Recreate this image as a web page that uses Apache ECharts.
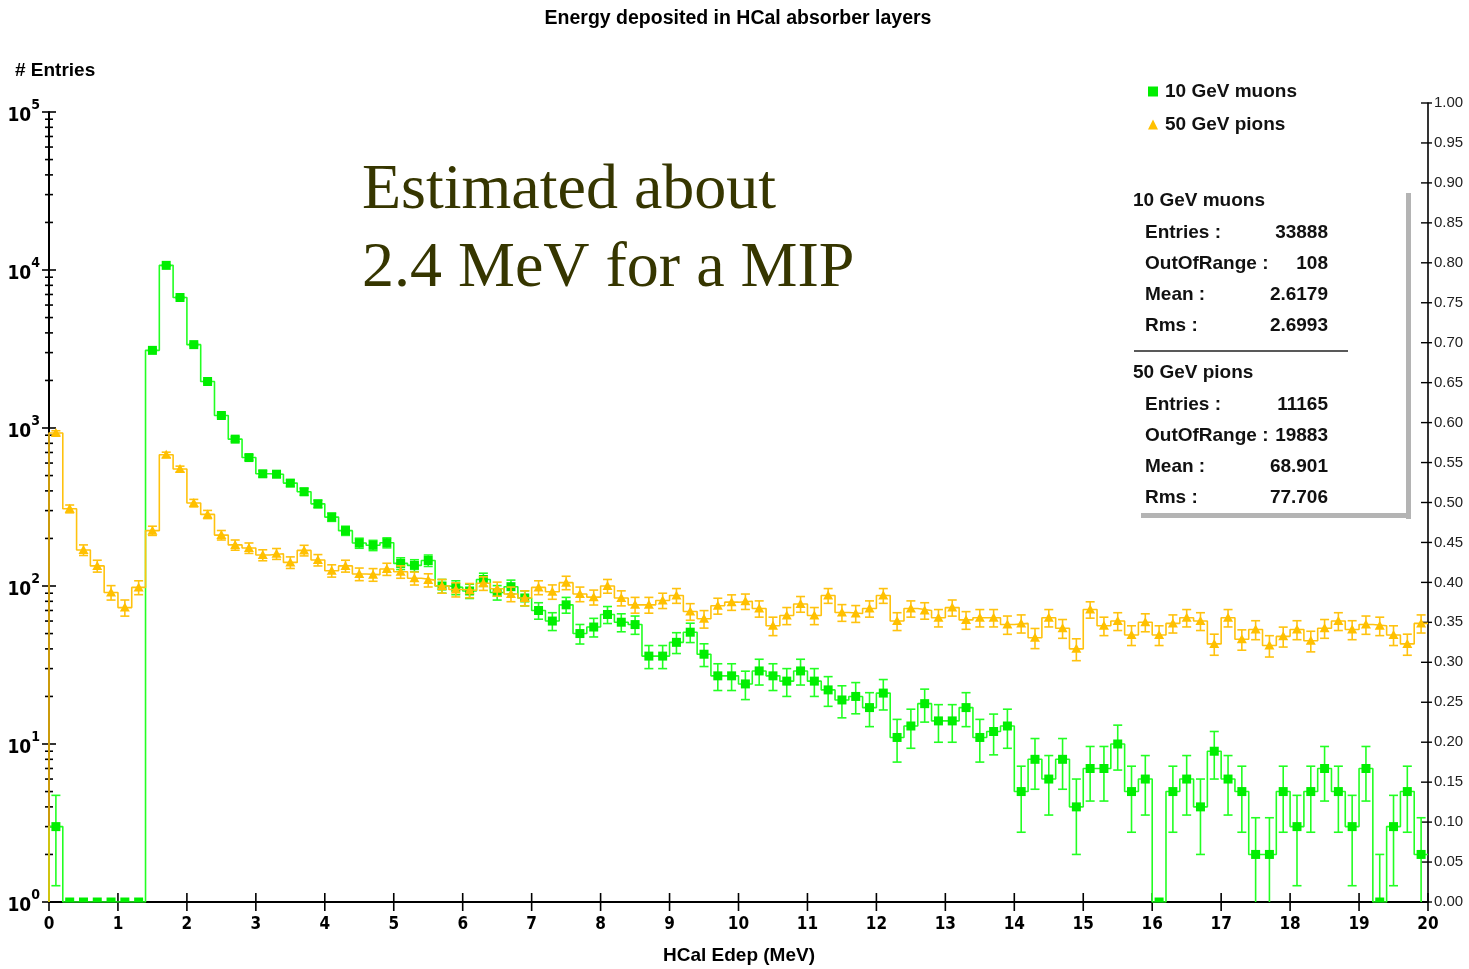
<!DOCTYPE html>
<html>
<head>
<meta charset="utf-8">
<title>Energy deposited in HCal absorber layers</title>
<script src="https://cdn.jsdelivr.net/npm/echarts@6/dist/echarts.min.js"></script>
<style>
  html, body { margin: 0; padding: 0; background: #ffffff; }
  #chart { width: 1469px; height: 969px; }
</style>
</head>
<body>
<div id="chart"></div>
<script>
// Histogram binning: 100 bins of 0.2 MeV between 0 and 20 MeV
const binWidth = 0.2;

// Entries per bin, 10 GeV muons
const muonCounts = [
  3, 0, 0, 0, 0, 0, 0, 3100, 10700, 6700,
  3370, 1970, 1200, 850, 650, 513, 510, 448, 395, 331,
  273, 224, 187, 181, 188, 139, 135, 145, 100, 98,
  93, 110, 91, 99, 84, 70, 60, 76, 50, 55,
  66, 59, 57, 36, 36, 44, 51, 37, 27, 27,
  24, 29, 27, 25, 29, 25, 22, 19, 20, 17,
  21, 11, 13, 18, 14, 14, 17, 11, 12, 13,
  5, 8, 6, 8, 4, 7, 7, 10, 5, 6,
  0, 5, 6, 4, 9, 6, 5, 2, 2, 5,
  3, 5, 7, 5, 3, 7, 1, 3, 5, 2
];

// Entries per bin, 50 GeV pions
const pionCounts = [
  930, 308, 169, 134, 91, 73, 98, 224, 677, 550,
  335, 284, 210, 182, 174, 157, 160, 141, 168, 146,
  125, 134, 119, 118, 128, 123, 112, 109, 100, 95,
  94, 104, 96, 89, 84, 98, 92, 105, 89, 85,
  100, 84, 76, 76, 81, 87, 69, 62, 75, 79,
  80, 72, 56, 65, 77, 65, 87, 68, 67, 72,
  87, 60, 72, 70, 63, 73, 61, 63, 63, 57,
  58, 47, 63, 54, 40, 71, 56, 60, 49, 59,
  49, 58, 63, 60, 43, 63, 46, 53, 42, 48,
  53, 45, 54, 60, 53, 57, 56, 49, 43, 58
];

// Axis tick positions
const xTickValues = [0, 1, 2, 3, 4, 5, 6, 7, 8, 9, 10, 11, 12, 13, 14, 15, 16, 17, 18, 19, 20];
const decadeValues = [1, 10, 100, 1000, 10000, 100000];
const minorMultipliers = [2, 3, 4, 5, 6, 7, 8, 9];
const rightTickValues = [0, 0.05, 0.1, 0.15, 0.2, 0.25, 0.3, 0.35, 0.4, 0.45, 0.5,
  0.55, 0.6, 0.65, 0.7, 0.75, 0.8, 0.85, 0.9, 0.95, 1];

// Statistics boxes
const statLabels = ['Entries :', 'OutOfRange :', 'Mean :', 'Rms :'];
const muonStats = ['33888', '108', '2.6179', '2.6993'];
const pionStats = ['11165', '19883', '68.901', '77.706'];

const muonName = '10 GeV muons';
const pionName = '50 GeV pions';
const GREEN_LINE = '#22ff22';
const GREEN_MARK = '#00ee00';
const YELLOW_LINE = '#ffc20e';
const YELLOW_MARK = '#ffc000';

const NARROW = '"Liberation Sans Narrow", "DejaVu Sans Condensed", "Liberation Sans", sans-serif';
const SANS = '"Liberation Sans", Arial, sans-serif';

// Histogram outline as a step path along the bin edges (empty bins sit on the axis floor)
function stepPoints(counts) {
  const pts = [[0, 1]];
  counts.forEach(function (c, i) {
    const y = Math.max(c, 1);
    pts.push([i * binWidth, y], [(i + 1) * binWidth, y]);
  });
  return pts;
}

function binCenter(i) { return (2 * i + 1) * binWidth / 2; }

function markerPoints(counts) {
  return counts.map(function (c, i) { return [binCenter(i), Math.max(c, 1)]; });
}

// Poisson (sqrt N) error bars for non-empty bins
function errorPoints(counts) {
  const out = [];
  counts.forEach(function (c, i) {
    if (c <= 0) return;
    const e = Math.sqrt(c);
    out.push([binCenter(i), Math.max(c - e, 1), c + e]);
  });
  return out;
}

function errorBarRenderer(color) {
  return function (params, api) {
    const x = api.value(0), lo = api.value(1), hi = api.value(2);
    const pLo = api.coord([x, lo]);
    const pHi = api.coord([x, hi]);
    const half = 4.5;
    const style = { stroke: color, lineWidth: 1.6 };
    const children = [
      { type: 'line', shape: { x1: pLo[0], y1: pLo[1], x2: pHi[0], y2: pHi[1] }, style: style },
      { type: 'line', shape: { x1: pHi[0] - half, y1: pHi[1], x2: pHi[0] + half, y2: pHi[1] }, style: style }
    ];
    if (lo > 1) {
      children.push({ type: 'line', shape: { x1: pLo[0] - half, y1: pLo[1], x2: pLo[0] + half, y2: pLo[1] }, style: style });
    }
    return { type: 'group', children: children };
  };
}

// Markers are clipped at the plot floor, so empty bins show only their upper half
function markerRenderer(kind, color) {
  return function (params, api) {
    const p = api.coord([api.value(0), api.value(1)]);
    const cs = params.coordSys;
    const floor = cs.y + cs.height;
    if (kind === 'rect') {
      const top = p[1] - 4.5;
      const bottom = Math.min(p[1] + 4.5, floor);
      return { type: 'rect', shape: { x: p[0] - 4.5, y: top, width: 9, height: bottom - top }, style: { fill: color } };
    }
    return {
      type: 'polygon',
      shape: { points: [[p[0], p[1] - 5], [p[0] + 5, p[1] + 4], [p[0] - 5, p[1] + 4]] },
      style: { fill: color }
    };
  };
}

// Tick marks that cross the axis lines: [x, y, kind]
const tickData = [];
decadeValues.forEach(function (d, k) {
  tickData.push([0, d, 0]);
  if (k < decadeValues.length - 1) {
    minorMultipliers.forEach(function (m) { tickData.push([0, d * m, 1]); });
  }
});
xTickValues.forEach(function (v) { tickData.push([v, 1, 2]); });

function tickRenderer(params, api) {
  const p = api.coord([api.value(0), api.value(1)]);
  const kind = api.value(2);
  const style = { stroke: '#000', lineWidth: 1.6 };
  let shape;
  if (kind === 0) shape = { x1: p[0] - 7, y1: p[1], x2: p[0] + 7, y2: p[1] };
  else if (kind === 1) shape = { x1: p[0] - 4, y1: p[1], x2: p[0] + 4, y2: p[1] };
  else shape = { x1: p[0], y1: p[1] - 9, x2: p[0], y2: p[1] + 9 };
  return { type: 'line', shape: shape, style: style };
}

function rightTickRenderer(params, api) {
  const p = api.coord([20, api.value(0)]);
  return {
    type: 'line',
    shape: { x1: p[0] - 7, y1: p[1], x2: p[0] + 4, y2: p[1] },
    style: { stroke: '#000', lineWidth: 1.4 }
  };
}

// Text of the statistics panel
function statBlock(title, values, top) {
  const font = 'bold 19px ' + SANS;
  const items = [{
    type: 'text', x: 1133, y: top,
    style: { text: title, font: font, fill: '#111', verticalAlign: 'middle', align: 'left' }
  }];
  values.forEach(function (v, i) {
    const y = top + 31.3 * (i + 1);
    items.push({
      type: 'text', x: 1145, y: y,
      style: { text: statLabels[i], font: font, fill: '#111', verticalAlign: 'middle', align: 'left' }
    });
    items.push({
      type: 'text', x: 1328, y: y,
      style: { text: v, font: font, fill: '#111', verticalAlign: 'middle', align: 'right' }
    });
  });
  return items;
}

const chart = echarts.init(document.getElementById('chart'), null, { renderer: 'canvas' });

const option = {
  backgroundColor: '#ffffff',
  animation: false,
  grid: [
    { left: 49, right: 41, top: 112, bottom: 67 },
    { left: 49, right: 41, top: 103, bottom: 67 }
  ],
  legend: {
    orient: 'vertical',
    left: 1143,
    top: 76,
    itemWidth: 10,
    itemHeight: 10,
    itemGap: 12,
    selectedMode: false,
    textStyle: { fontFamily: SANS, fontWeight: 'bold', fontSize: 19, color: '#111', lineHeight: 21, padding: [0, 0, 0, 2] },
    data: [
      { name: muonName, icon: 'rect', itemStyle: { color: GREEN_MARK } },
      { name: pionName, icon: 'triangle', itemStyle: { color: YELLOW_MARK } }
    ]
  },
  xAxis: [
    {
      gridIndex: 0, type: 'value', min: 0, max: 20, interval: 1,
      axisLine: { show: true, onZero: false, lineStyle: { color: '#000', width: 2 } },
      axisTick: { show: false },
      splitLine: { show: false },
      axisLabel: { margin: 14, fontFamily: NARROW, fontWeight: 'bold', fontSize: 17, color: '#000' }
    },
    { gridIndex: 1, type: 'value', min: 0, max: 20, show: false }
  ],
  yAxis: [
    {
      gridIndex: 0, type: 'log', logBase: 10, min: 1, max: 100000,
      axisLine: { show: true, onZero: false, lineStyle: { color: '#000', width: 2 } },
      axisTick: { show: false },
      splitLine: { show: false },
      axisLabel: {
        margin: 9,
        formatter: function (v) {
          return '{b|10}{s|' + Math.round(Math.log10(v)) + '}';
        },
        rich: {
          b: { fontFamily: NARROW, fontWeight: 'bold', fontSize: 19, color: '#000', lineHeight: 28, verticalAlign: 'bottom' },
          s: { fontFamily: NARROW, fontWeight: 'bold', fontSize: 14, color: '#000', lineHeight: 14, verticalAlign: 'top' }
        }
      }
    },
    {
      gridIndex: 1, type: 'value', position: 'right', min: 0, max: 1, interval: 0.05,
      axisLine: { show: true, onZero: false, lineStyle: { color: '#000', width: 1.6 } },
      axisTick: { show: false },
      splitLine: { show: false },
      axisLabel: {
        margin: 6, fontFamily: SANS, fontSize: 15, color: '#222',
        formatter: function (v) { return v.toFixed(2); }
      }
    }
  ],
  series: [
    {
      name: 'muon-outline', type: 'line', xAxisIndex: 0, yAxisIndex: 0,
      data: stepPoints(muonCounts), showSymbol: false, symbol: 'none',
      lineStyle: { color: GREEN_LINE, width: 1.6 }, z: 2, silent: true
    },
    {
      name: 'muon-errors', type: 'custom', xAxisIndex: 0, yAxisIndex: 0,
      renderItem: errorBarRenderer(GREEN_LINE), data: errorPoints(muonCounts),
      encode: { x: 0, y: [1, 2] }, z: 3, silent: true, clip: true
    },
    {
      name: muonName, type: 'custom', xAxisIndex: 0, yAxisIndex: 0,
      renderItem: markerRenderer('rect', GREEN_MARK), data: markerPoints(muonCounts),
      encode: { x: 0, y: 1 }, itemStyle: { color: GREEN_MARK }, z: 4, clip: false, silent: true
    },
    {
      name: 'pion-outline', type: 'line', xAxisIndex: 0, yAxisIndex: 0,
      data: stepPoints(pionCounts), showSymbol: false, symbol: 'none',
      lineStyle: { color: YELLOW_LINE, width: 1.6 }, z: 5, silent: true
    },
    {
      name: 'pion-errors', type: 'custom', xAxisIndex: 0, yAxisIndex: 0,
      renderItem: errorBarRenderer(YELLOW_LINE), data: errorPoints(pionCounts),
      encode: { x: 0, y: [1, 2] }, z: 6, silent: true, clip: true
    },
    {
      name: pionName, type: 'custom', xAxisIndex: 0, yAxisIndex: 0,
      renderItem: markerRenderer('triangle', YELLOW_MARK), data: markerPoints(pionCounts),
      encode: { x: 0, y: 1 }, itemStyle: { color: YELLOW_MARK }, z: 7, clip: false, silent: true
    },
    {
      name: 'axis-ticks', type: 'custom', xAxisIndex: 0, yAxisIndex: 0,
      renderItem: tickRenderer, data: tickData,
      encode: { x: 0, y: 1 }, z: 1, silent: true, clip: false
    },
    {
      name: 'right-axis-ticks', type: 'custom', xAxisIndex: 1, yAxisIndex: 1,
      renderItem: rightTickRenderer, data: rightTickValues.map(function (v) { return [v]; }),
      encode: { y: 0 }, z: 1, silent: true, clip: false
    }
  ],
  graphic: [
    {
      type: 'text', x: 738, y: 19,
      style: { text: 'Energy deposited in HCal absorber layers', font: 'bold 19.5px ' + SANS, fill: '#000', align: 'center', verticalAlign: 'middle' }
    },
    {
      type: 'text', x: 15, y: 71,
      style: { text: '# Entries', font: 'bold 19px ' + SANS, fill: '#000', align: 'left', verticalAlign: 'middle' }
    },
    {
      type: 'text', x: 739, y: 956,
      style: { text: 'HCal Edep (MeV)', font: 'bold 19px ' + SANS, fill: '#000', align: 'center', verticalAlign: 'middle' }
    },
    {
      type: 'text', x: 362, y: 191, z: 20,
      style: { text: 'Estimated about', font: '64px "Liberation Serif", "Times New Roman", serif', fill: '#363600', align: 'left', verticalAlign: 'middle' }
    },
    {
      type: 'text', x: 362, y: 269, z: 20,
      style: { text: '2.4 MeV for a MIP', font: '64px "Liberation Serif", "Times New Roman", serif', fill: '#363600', align: 'left', verticalAlign: 'middle' }
    },
    // panel shadow edges
    { type: 'rect', shape: { x: 1406, y: 193, width: 5, height: 326 }, style: { fill: '#b4b4b4' } },
    { type: 'rect', shape: { x: 1141, y: 513, width: 270, height: 5 }, style: { fill: '#b4b4b4' } },
    // separator between the two blocks
    { type: 'line', shape: { x1: 1134, y1: 351, x2: 1348, y2: 351 }, style: { stroke: '#222', lineWidth: 1.5 } }
  ].concat(statBlock(muonName, muonStats, 201), statBlock(pionName, pionStats, 373))
};

chart.setOption(option);
</script>
</body>
</html>
